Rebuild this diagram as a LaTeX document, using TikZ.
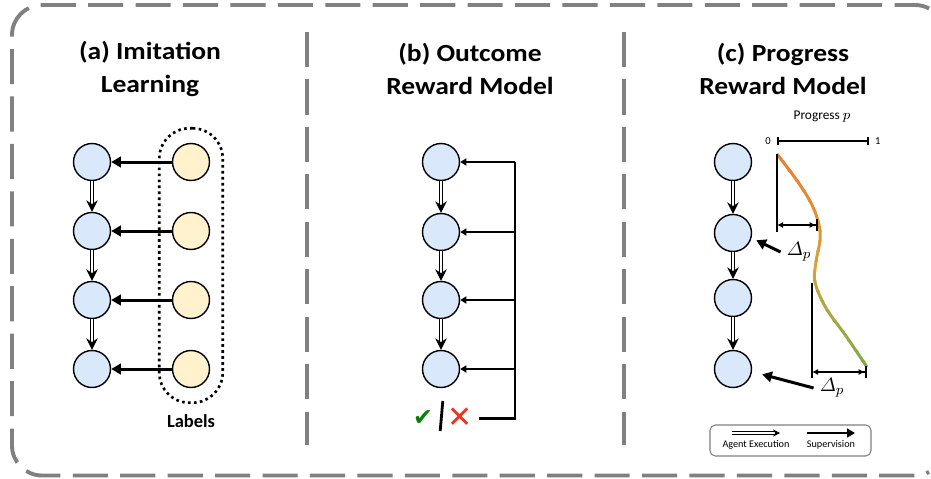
\documentclass[tikz,border=0pt]{standalone}
\usepackage{amsmath}
\usepackage[no-math]{fontspec}
\setmainfont{Carlito}
\newfontfamily\titlefont{Carlito}[FakeStretch=1.12]
\newfontfamily\symfont{DejaVu Sans}
\usepackage{tikz}
\usetikzlibrary{arrows.meta,positioning,fit}
\definecolor{stateblue}{HTML}{DAE8FC}
\definecolor{labelyellow}{HTML}{FFF2CC}
\definecolor{framegray}{RGB}{128,128,128}
\definecolor{curveorange}{HTML}{ED7D31}
\definecolor{curvegold}{HTML}{D6A33C}
\definecolor{curvegreen}{HTML}{70AD47}
\definecolor{checkgreen}{RGB}{10,125,10}
\definecolor{crossred}{RGB}{250,45,25}

\begin{document}
\begin{tikzpicture}[x=0.02cm, y=-0.02cm,
    state/.style={circle, draw, line width=0.8pt, fill=stateblue, minimum size=0.74cm, inner sep=0pt},
    labelstate/.style={state, fill=labelyellow},
    frame/.style={draw=framegray, line width=2.2pt, dash pattern=on 20pt off 7pt},
    titletext/.style={align=center, font=\titlefont\fontsize{14}{19}\selectfont\bfseries},
    sup/.style={line width=1.7pt, -{Triangle[length=5.5pt,width=6pt]}},
    fbarrow/.style={line width=1.1pt, -{Triangle[length=3.5pt,width=4pt]}},
    exec/.style={draw, double=white, double distance=1.5pt, line width=0.6pt, -{Stealth[length=6.5pt,width=6.5pt]}},
    guide/.style={line width=1.6pt},
    deltaarrow/.style={line width=1.1pt, {Latex[length=3.5pt,width=3.5pt]}-{Latex[length=3.5pt,width=3.5pt] Bar[width=7pt,line width=1.3pt]}},
    deltatext/.style={font=\fontsize{11}{13}\selectfont},
    legendtext/.style={font=\fontsize{5.8}{7}\selectfont, inner sep=1pt}
  ]
    \useasboundingbox (0,0) rectangle (931,478);
    % outer frame, cut at the right border of the page
    \draw[frame] (929.1,8.5) arc[start angle=-62, end angle=-90, radius=30]
        -- (42,5) arc[start angle=-90, end angle=-180, radius=30]
        -- (12,445.5) arc[start angle=180, end angle=90, radius=30]
        -- (915,475.5) arc[start angle=90, end angle=62, radius=30];
    \draw[frame] (307,32) -- (307,445);
    \draw[frame] (624,32) -- (624,445);

    \node[titletext] (ta) at (150,69) {(a) Imitation\\Learning};
    \node[titletext] (tb) at (470,69) {(b) Outcome\\Reward Model};
    \node[titletext] (tc) at (783,69) {(c) Progress\\Reward Model};

    % (a)
    \foreach \i/\y in {1/162,2/231,3/300,4/369} {
        \node[state] (a\i) at (92,\y) {};
        \node[labelstate] (l\i) at (191,\y) {};
        \draw[sup] (l\i) -- (a\i);
    }
    \foreach \i/\j in {1/2,2/3,3/4}
        \draw[exec] (a\i) -- (a\j);
    \node[draw, line width=1.5pt, dash pattern=on 1.5pt off 1.9pt, rounded corners=0.6cm,
        inner xsep=0.25cm, inner ysep=0.29cm, fit=(l1)(l4)] (lab) {};
    \node[font=\fontsize{10.5}{12}\selectfont\bfseries, below=2.5pt of lab] (labtxt) {Labels};

    % (b)
    \foreach \i/\y in {1/162,2/232,3/300,4/369}
        \node[state] (b\i) at (441,\y) {};
    \foreach \i/\j in {1/2,2/3,3/4}
        \draw[exec] (b\i) -- (b\j);
    \node[font=\symfont\fontsize{13.5}{14}\selectfont, text=checkgreen] (ok) at (423,418) {✔};
    \node[font=\symfont\fontsize{17}{17}\selectfont, text=crossred] (no) at (460,418) {✕};
    \coordinate (sl) at (441.5,416);
    \draw[line width=1.6pt] (sl) +(1.3,-15) -- +(-1.3,15);
    \coordinate (fb) at (515,418);
    \draw[line width=1.7pt] (no) -- (fb) -- (fb |- b1);
    \foreach \i in {1,...,4}
        \draw[fbarrow] (fb |- b\i) -- (b\i);

    % (c)
    \foreach \i/\y in {1/162,2/233,3/298,4/369}
        \node[state] (c\i) at (733,\y) {};
    \foreach \i/\j in {1/2,2/3,3/4}
        \draw[exec] (c\i) -- (c\j);
    \node[font=\fontsize{7.6}{9}\selectfont] (prog) at (822,117) {Progress $p$};
    \coordinate (p0) at (777,141);
    \coordinate (p1) at (869,141);
    \draw[line width=1.3pt, {Bar[width=4pt]}-{Bar[width=4pt]}] (p0) -- (p1);
    \node[font=\fontsize{6}{7}\selectfont, left=0pt of p0] (zero) {0};
    \node[font=\fontsize{6}{7}\selectfont, right=0pt of p1] (one) {1};

    \foreach \k in {0,...,22} {
        \pgfmathtruncatemacro\t{\k*100/22}
        \ifnum\t<50
            \pgfmathtruncatemacro\m{2*\t}
            \colorlet{bandcolor}{curvegold!\m!curveorange}
        \else
            \pgfmathtruncatemacro\m{2*\t-100}
            \colorlet{bandcolor}{curvegreen!\m!curvegold}
        \fi
        \begin{scope}
            \clip (760,150+10*\k) rectangle (880,161+10*\k);
            \draw[bandcolor, line width=1.7pt] plot[smooth, tension=0.6] coordinates
                {(777,154) (798,182) (812,205) (819,225) (820,240) (816,262) (815,282) (826,308) (846,336) (867,367)};
        \end{scope}
    }

    \draw[guide] (777,154) -- (777,232);
    \draw[deltaarrow] (777,225) -- (818,225);
    \draw[guide] (812,283) -- (812,378);
    \draw[deltaarrow] (812,372) -- (867,372);
    \node[deltatext] (d1) at (799,252) {$\varDelta_p$};
    \node[deltatext] (d2) at (832,388) {$\varDelta_p$};
    \draw[sup, shorten >=3pt] (d1.west) -- (c2.-15);
    \draw[sup, shorten >=6pt] (d2.west) -- (c4.-8);

    % legend
    \node[draw=gray, line width=0.6pt, rounded corners=3pt, minimum width=3.22cm, minimum height=0.62cm] (legend) at (790.5,440.5) {};
    \coordinate (e0) at (732,433);
    \coordinate (e1) at (780,433);
    \coordinate (s0) at (807,433);
    \coordinate (s1) at (855,433);
    \draw[exec, line width=0.4pt, double distance=1pt, -{Stealth[length=4pt,width=4pt]}] (e0) -- (e1);
    \draw[line width=1.5pt, -{Triangle[length=4.5pt,width=5pt]}] (s0) -- (s1);
    \node[legendtext] (etxt) at (756,445) {Agent Execution};
    \node[legendtext] (stxt) at (831,445) {Supervision};
\end{tikzpicture}
\end{document}
